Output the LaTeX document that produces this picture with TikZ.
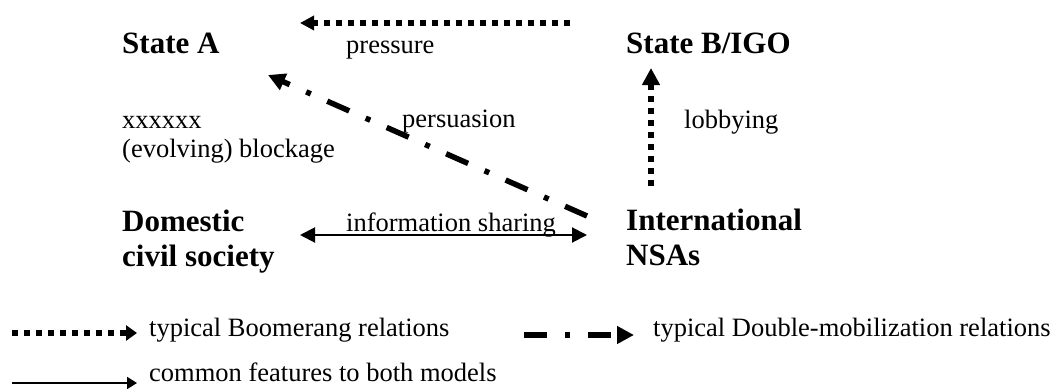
\documentclass[tikz,border=0pt]{standalone}
\usepackage{fontspec}
\setmainfont{Liberation Serif}
\usetikzlibrary{arrows.meta}
\tikzset{
  txt/.style={inner sep=0pt, font=\fontsize{26.5}{29}\selectfont},
  btxt/.style={inner sep=0pt, font=\fontsize{31}{35}\selectfont\bfseries},
  dotline/.style={line width=6pt, dash pattern=on 6pt off 6pt},
  dashdot/.style={line width=5.5pt, dash pattern=on 24pt off 18pt on 5pt off 18pt},
  thinline/.style={line width=2pt},
}
\begin{document}
\begin{tikzpicture}[x=1pt,y=-1pt]
\useasboundingbox (0,0) rectangle (1056,388);
% text nodes
\node[btxt, anchor=base west] (stateA) at (122,53) {State A};
\node[btxt, anchor=base west] (stateB) at (626,53) {State B/IGO};
\node[txt, anchor=base west] (pressure) at (346,53) {pressure};
\node[txt, anchor=north west, align=left] (block) at (122,107.5) {\strut xxxxxx\\\strut(evolving) blockage};
\node[txt, anchor=base west] (persuasion) at (402,127.5) {persuasion};
\node[txt, anchor=base west] (lobbying) at (684,128) {lobbying};
\node[btxt, anchor=north west, align=left] (domestic) at (122,206.5) {\strut Domestic\\\strut civil society};
\node[btxt, anchor=north west, align=left] (intl) at (626,206) {\strut International\\\strut NSAs};
\node[txt, anchor=base west] (info) at (346,231) {information sharing};
% connector end points
\coordinate (pS) at (570,23);
\coordinate (pE) at (300,23);
\coordinate (perS) at (587,216);
\coordinate (perE) at (268,75);
\coordinate (lobS) at (651,186);
\coordinate (lobE) at (651,68);
\coordinate (infL) at (300,235);
\coordinate (infR) at (587,235);
% connectors
\draw[dotline, -{Triangle[length=14pt,width=14pt]}] (pS) -- (pE);
\draw[dashdot, -{Triangle[length=17pt,width=17pt]}] (perS) -- (perE);
\draw[dotline, -{Triangle[length=17pt,width=17pt]}] (lobS) -- (lobE);
\draw[thinline, {Triangle[length=15pt,width=15pt]}-{Triangle[length=15pt,width=15pt]}] (infL) -- (infR);
% legend
\coordinate (l1S) at (12,333);
\coordinate (l1E) at (137,333);
\coordinate (l2S) at (524,335);
\coordinate (l2E) at (634,335);
\coordinate (l3S) at (12,383);
\coordinate (l3E) at (137,383);
\draw[dotline, -{Triangle[length=11pt,width=15pt]}] (l1S) -- (l1E);
\draw[dashdot, dash pattern=on 23pt off 18pt on 5pt off 18pt, -{Triangle[length=17pt,width=17pt]}] (l2S) -- (l2E);
\draw[thinline, -{Triangle[length=10pt,width=12pt]}] (l3S) -- (l3E);
\node[txt, anchor=base west] (leg1) at (149,336) {typical Boomerang relations};
\node[txt, anchor=base west] (leg2) at (653,336) {typical Double-mobilization relations};
\node[txt, anchor=base west] (leg3) at (149,381.5) {common features to both models};
\end{tikzpicture}
\end{document}
